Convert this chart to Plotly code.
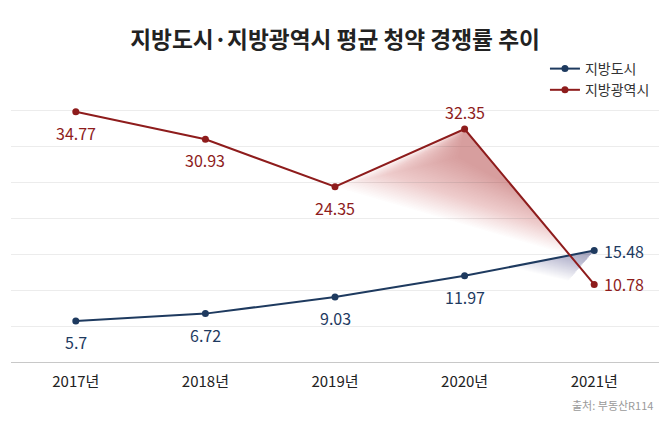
import plotly.graph_objects as go

# 데이터
years = ['2017년', '2018년', '2019년', '2020년', '2021년']
local_city = [5.7, 6.72, 9.03, 11.97, 15.48]          # 지방도시
metro_city = [34.77, 30.93, 24.35, 32.35, 10.78]      # 지방광역시
metro_label_pos = ['below', 'below', 'below', 'above', 'right']
city_label_pos = ['below', 'below', 'below', 'below', 'right']

BLUE = '#1e3a5f'
RED = '#8e1c1c'
FONT = 'Noto Sans CJK KR'

xs = list(range(len(years)))

fig = go.Figure()


def lerp(p, q, t):
    return (p[0] + (q[0] - p[0]) * t, p[1] + (q[1] - p[1]) * t)


def shade(apex, q0, q1, p0, p1, n, color):
    # apex 근처가 가장 진하고 바깥쪽으로 옅어지는 그림자 (반투명 삼각형을 겹침)
    for k in range(1, n + 1):
        t = k / n
        Q = lerp(q0, q1, t)
        P = lerp(p0, p1, t)
        fig.add_trace(go.Scatter(
            x=[apex[0], Q[0], P[0], apex[0]], y=[apex[1], Q[1], P[1], apex[1]],
            mode='lines', fill='toself', line=dict(width=0),
            fillcolor=color, hoverinfo='skip', showlegend=False))


# 두 선이 만나는 지점 (2020~2021 구간)
d_red = metro_city[4] - metro_city[3]
d_blue = local_city[4] - local_city[3]
t_cross = (metro_city[3] - local_city[3]) / (d_blue - d_red)
cross = (3 + t_cross, local_city[3] + d_blue * t_cross)

# 빨간 그림자: 2020점에서 2019점, 교차점 쪽으로 옅어짐
A = (2, metro_city[2])
B = (3, metro_city[3])
shade(B, lerp(B, cross, 0.45), cross, lerp(B, lerp(A, cross, 0.5), 0.3), A,
      40, 'rgba(200,80,80,0.02)')

# 파란 그림자: 2021 지방도시 점 왼쪽 아래
F = (4, local_city[4])
G = (3.35, local_city[3] + d_blue * 0.35)
H = (3.8, local_city[4] - 4.2)
shade(F, lerp(F, G, 0.05), G, lerp(F, H, 0.05), H, 35, 'rgba(50,80,125,0.014)')

fig.add_trace(go.Scatter(
    x=xs, y=local_city, name='지방도시', mode='lines+markers',
    line=dict(color=BLUE, width=2), marker=dict(color=BLUE, size=7),
    cliponaxis=False, hoverinfo='y'))
fig.add_trace(go.Scatter(
    x=xs, y=metro_city, name='지방광역시', mode='lines+markers',
    line=dict(color=RED, width=2), marker=dict(color=RED, size=7),
    cliponaxis=False, hoverinfo='y'))


def add_labels(values, positions, color):
    for x, v, pos in zip(xs, values, positions):
        a = dict(x=x, y=v, text=f'{v:g}', showarrow=False,
                 font=dict(family=FONT, size=16, color=color))
        if pos == 'below':
            a.update(yshift=-21)
        elif pos == 'above':
            a.update(yshift=17)
        else:
            a.update(xanchor='left', xshift=8)
        fig.add_annotation(**a)


add_labels(local_city, city_label_pos, BLUE)
add_labels(metro_city, metro_label_pos, RED)

fig.add_annotation(
    text='출처: 부동산R114', xref='paper', yref='paper', x=0.994, y=-0.169,
    xanchor='right', yanchor='middle', showarrow=False,
    font=dict(family=FONT, size=11, color='#9a9a9a'))

# 페이지 여백(8px)을 감안한 크기
fig.update_layout(
    width=662, height=414,
    margin=dict(l=3, r=11, t=100, b=60),
    paper_bgcolor='white', plot_bgcolor='white',
    font=dict(family=FONT, color='#333333'),
    title=dict(text='<b>지방도시·지방광역시 평균 청약 경쟁률 추이</b>',
               x=0.494, xanchor='center', y=1 - 32 / 414, yanchor='middle',
               font=dict(family=FONT, size=22.7, color='#222222')),
    legend=dict(x=0.824, y=1.2165, xanchor='left', yanchor='top',
                font=dict(family=FONT, size=14, color='#333333'),
                bgcolor='rgba(0,0,0,0)', itemwidth=30, tracegroupgap=0),
    showlegend=True,
)
fig.update_xaxes(
    range=[-0.5, 4.5], tickmode='array', tickvals=xs, ticktext=years,
    showgrid=False, zeroline=False, showline=True, linecolor='#c8c8c8',
    linewidth=1, ticks='', ticklabelstandoff=6,
    tickfont=dict(family=FONT, size=15, color='#222222'))
fig.update_yaxes(
    range=[0, 35.28], dtick=5, showticklabels=False, showgrid=True,
    gridcolor='#ececec', gridwidth=1, zeroline=False, showline=False)

fig.write_html('out.html')
